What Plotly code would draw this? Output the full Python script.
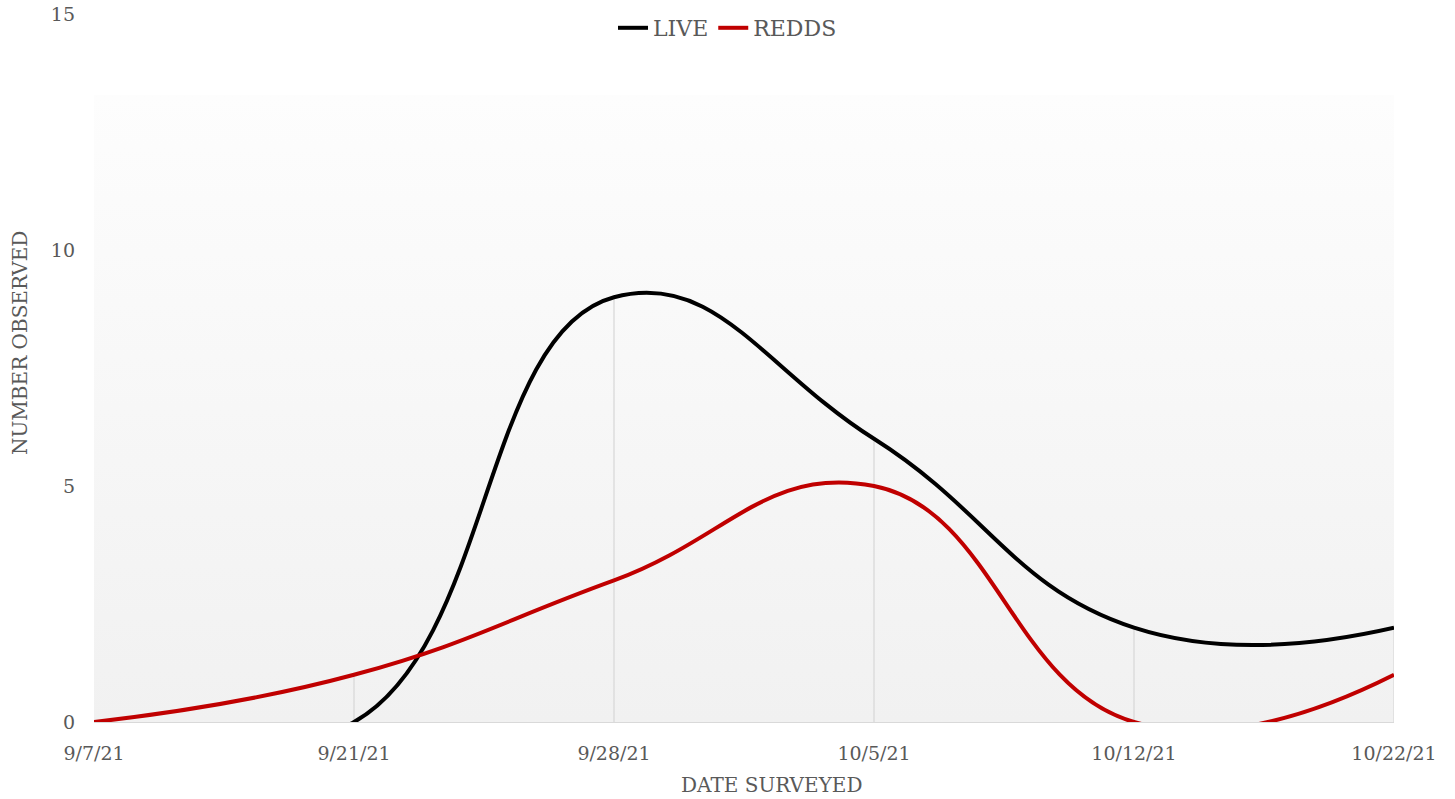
import base64
import plotly.graph_objects as go

dates = ["9/7/21", "9/21/21", "9/28/21", "10/5/21", "10/12/21", "10/22/21"]
live = [0, 0, 9, 6, 2, 2]
redds = [0, 1, 3, 5, 0, 1]
y_ticks = [0, 5, 10, 15]

FONT = "DejaVu Serif"
GRAY = "#595959"

# drop lines from the highest series value down to the axis
drop_x, drop_y = [], []
for d, a, b in zip(dates, live, redds):
    top = max(a, b)
    if top > 0:
        drop_x += [d, d, None]
        drop_y += [0, top, None]

svg = (
    '<svg xmlns="http://www.w3.org/2000/svg" width="100" height="100" preserveAspectRatio="none">'
    '<defs><linearGradient id="g" x1="0" y1="0" x2="0" y2="1">'
    '<stop offset="0" stop-color="#fdfdfd"/><stop offset="1" stop-color="#f1f1f1"/>'
    '</linearGradient></defs><rect width="100" height="100" fill="url(#g)"/></svg>'
)
src = "data:image/svg+xml;base64," + base64.b64encode(svg.encode()).decode()

fig = go.Figure()
fig.add_trace(go.Scatter(x=drop_x, y=drop_y, mode="lines",
                         line=dict(color="#d9d9d9", width=1.3),
                         hoverinfo="skip", showlegend=False))
fig.add_trace(go.Scatter(x=dates, y=live, name="LIVE", mode="lines",
                         line=dict(color="#000000", width=4, shape="spline", smoothing=1.3)))
fig.add_trace(go.Scatter(x=dates, y=redds, name="REDDS", mode="lines",
                         line=dict(color="#c00000", width=4, shape="spline", smoothing=1.3)))

H = 799
W = 1455
L, R = 94, 61
top_px, bot_px = 14, 722
grad_top = 95
pw = W - L - R
ph = bot_px - top_px

fig.add_layout_image(dict(
    source=src, xref="paper", yref="paper",
    x=0, y=(bot_px - grad_top) / ph, sizex=1,
    sizey=(bot_px - grad_top) / ph,
    xanchor="left", yanchor="top", sizing="stretch", layer="below"))


def px_to_paper(x, y):
    return (x - L) / pw, (bot_px - y) / ph


ax, ay = px_to_paper(20, 343)
bx, by = px_to_paper(771, 785)

fig.update_layout(
    width=W, height=H,
    margin=dict(l=L, r=R, t=top_px, b=H - bot_px, autoexpand=False),
    paper_bgcolor="white", plot_bgcolor="rgba(0,0,0,0)",
    font=dict(family=FONT, color=GRAY, size=18),
    showlegend=True,
    legend=dict(orientation="h", x=0.5, xanchor="center", xref="container",
                y=1 - 28 / H, yanchor="middle", yref="container",
                font=dict(family=FONT, size=22, color=GRAY),
                traceorder="normal"),
    xaxis=dict(type="category", categoryorder="array", categoryarray=dates,
               range=[0, len(dates) - 1], showgrid=False, zeroline=False,
               showline=True, linecolor="#d9d9d9", linewidth=1.3,
               ticks="", tickfont=dict(family=FONT, size=19, color=GRAY),
               ticklabelstandoff=14, automargin=False),
    yaxis=dict(range=[0, 15], tickvals=y_ticks, showgrid=False, zeroline=False,
               showline=False, ticks="",
               tickfont=dict(family=FONT, size=19, color=GRAY),
               ticklabelstandoff=18, automargin=False),
    annotations=[
        dict(text="NUMBER OBSERVED", textangle=-90, x=ax, xref="paper", y=ay,
             yref="paper", xanchor="center", yanchor="middle", showarrow=False,
             font=dict(family=FONT, size=20, color=GRAY)),
        dict(text="DATE SURVEYED", x=bx, xref="paper", y=by, yref="paper",
             xanchor="center", yanchor="middle", showarrow=False,
             font=dict(family=FONT, size=20, color=GRAY)),
    ],
)

fig.write_html("out.html",
               config={"displayModeBar": False},
               post_script="document.body.style.margin='0px';document.body.style.overflow='hidden';")
